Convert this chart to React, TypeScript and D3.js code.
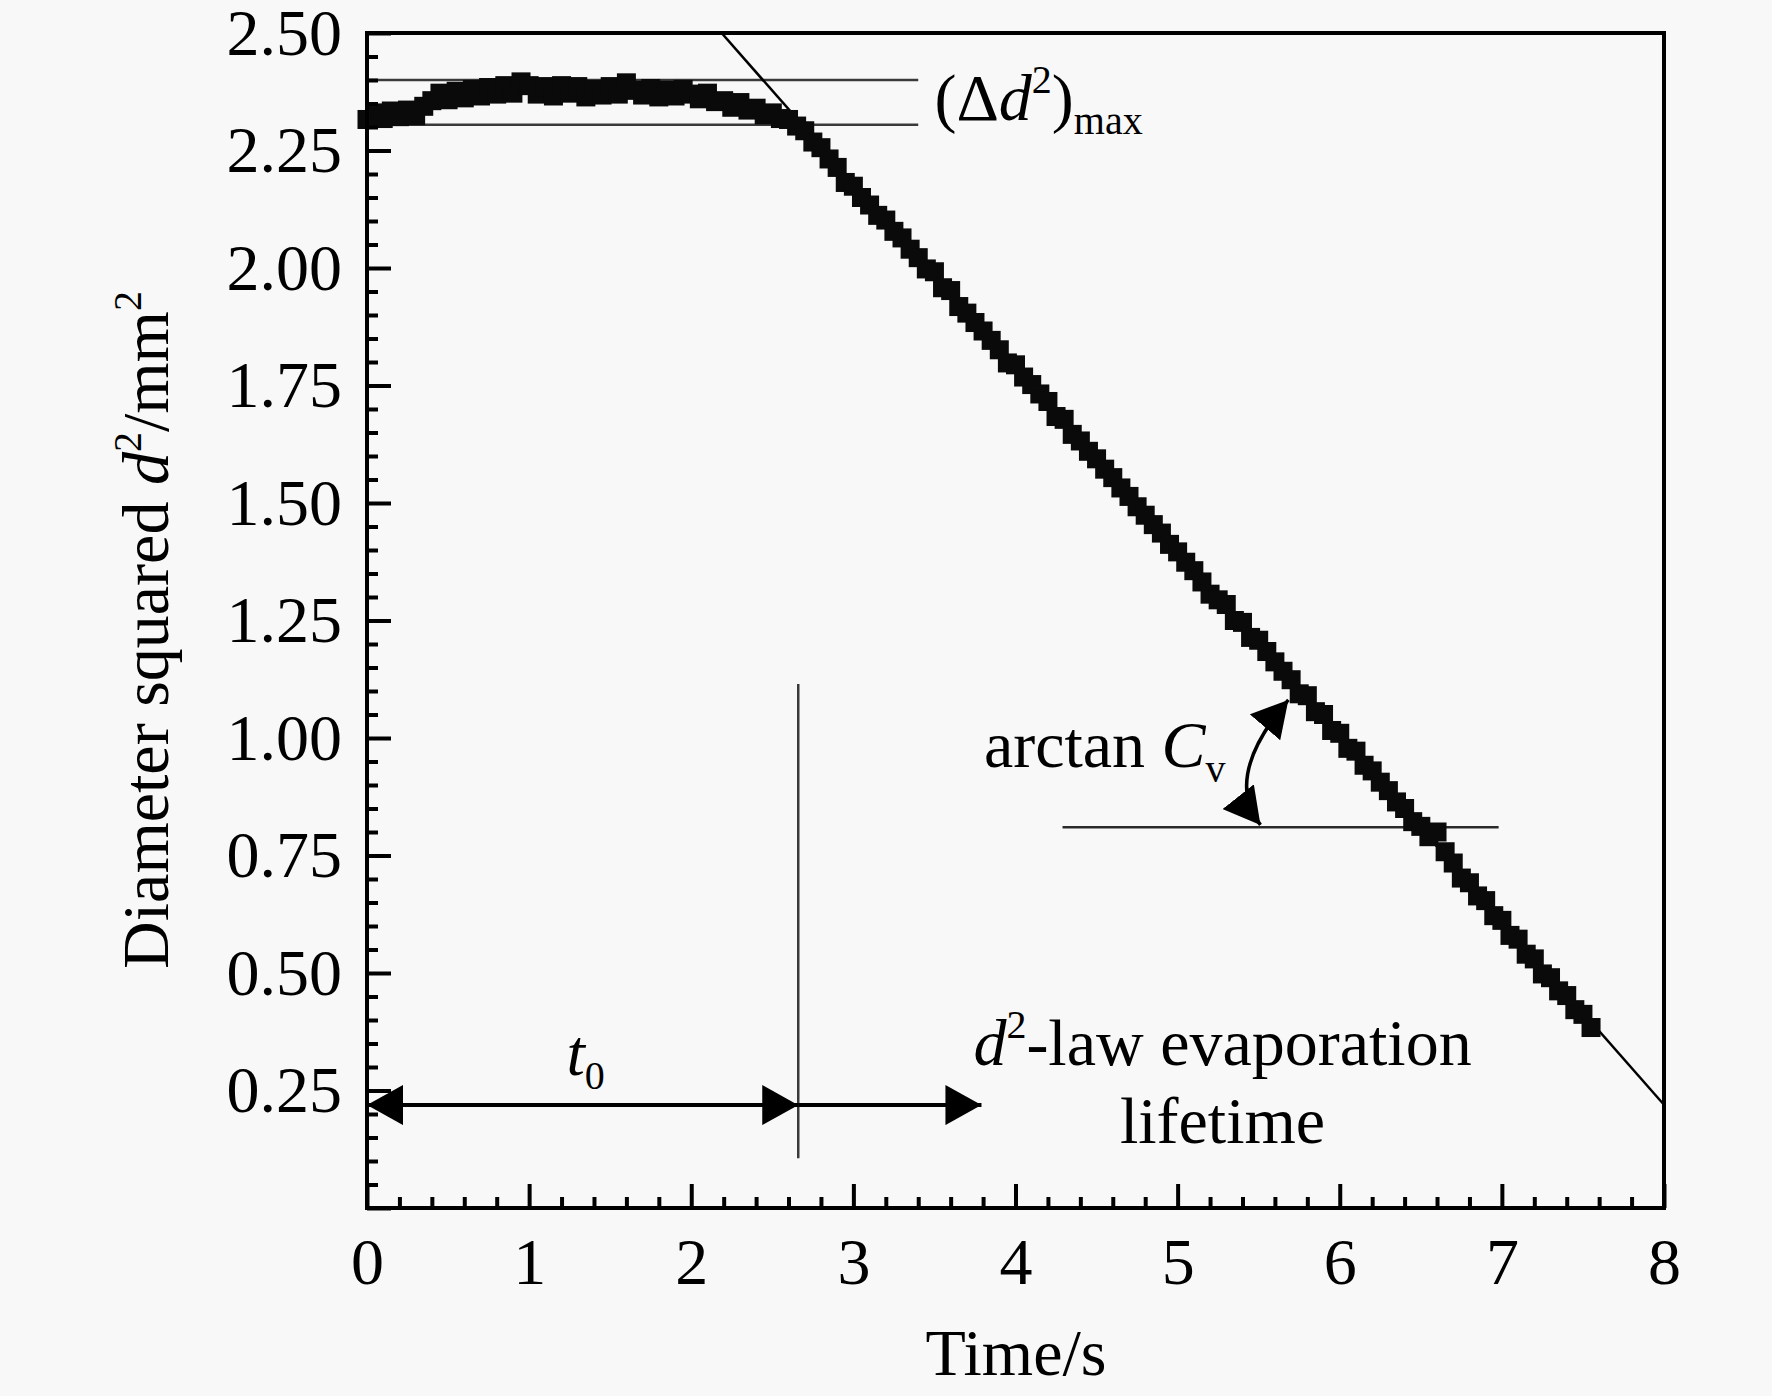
import * as d3 from "d3";
import { useEffect, useRef } from "react";

const WIDTH = 1772;
const HEIGHT = 1396;
const MARGIN = { top: 33, right: 108, bottom: 188, left: 367 };
const FONT = "'Liberation Serif', 'Times New Roman', serif";
const FONT_SIZE = 66;
const SUB_SIZE = 40;

// axes
const X_DOMAIN: [number, number] = [0, 8];
const Y_DOMAIN: [number, number] = [0, 2.5];
const X_MAJOR = [0, 1, 2, 3, 4, 5, 6, 7, 8];
const Y_MAJOR = [0, 0.25, 0.5, 0.75, 1.0, 1.25, 1.5, 1.75, 2.0, 2.25, 2.5];
const X_MINOR_STEP = 0.2;
const Y_MINOR_STEP = 0.05;

// measured d^2 (mm^2), one sample every 0.05 s starting at t = 0
const SAMPLE_STEP = 0.05;
const D2_VALUES = [
  2.316, 2.33, 2.318, 2.334, 2.322, 2.336, 2.324, 2.344, 2.356, 2.372,
  2.358, 2.376, 2.362, 2.38, 2.366, 2.384, 2.37, 2.388, 2.372, 2.396,
  2.388, 2.37, 2.386, 2.366, 2.388, 2.372, 2.386, 2.364, 2.38, 2.368,
  2.386, 2.37, 2.394, 2.378, 2.368, 2.382, 2.364, 2.378, 2.366, 2.38,
  2.37, 2.36, 2.372, 2.354, 2.356, 2.342, 2.352, 2.336, 2.34, 2.326,
  2.33, 2.318, 2.316, 2.302, 2.292, 2.268, 2.256, 2.232,
  2.214, 2.182, 2.174, 2.15, 2.134, 2.112, 2.102, 2.078, 2.064, 2.04,
  2.022, 1.998, 1.992, 1.958, 1.952, 1.918, 1.904, 1.884, 1.866, 1.846,
  1.826, 1.798, 1.794, 1.768, 1.752, 1.732, 1.716, 1.684, 1.678, 1.646,
  1.632, 1.61, 1.594, 1.572, 1.554, 1.532, 1.514, 1.492, 1.474, 1.454,
  1.436, 1.412, 1.396, 1.374, 1.356, 1.332, 1.306, 1.294, 1.284, 1.25,
  1.246, 1.214, 1.208, 1.184, 1.162, 1.142, 1.124, 1.094, 1.09, 1.056,
  1.05, 1.016, 1.01, 0.978, 0.972, 0.942, 0.93, 0.906, 0.888, 0.864,
  0.85, 0.822, 0.812, 0.79, 0.8, 0.758, 0.734, 0.702, 0.692, 0.664,
  0.654, 0.622, 0.612, 0.58, 0.572, 0.54, 0.53, 0.498, 0.49, 0.462,
  0.452, 0.422, 0.412, 0.384,
];

// d2-law fit line
const FIT_INTERCEPT = 3.358;
const FIT_SLOPE = -0.3923;

// annotations (data units)
const DELTA_LEVELS = [2.4, 2.305];
const DELTA_LINE_END = 3.4;
const T0 = 2.66;
const T0_LINE_RANGE = [0.106, 1.115];
const ARROW_LEVEL = 0.219;
const LIFETIME_ARROW_END = 3.79;
const ANGLE_LINE = { from: 4.29, to: 6.98, level: 0.81 };
const ANGLE_ARC = { from: [5.683, 1.081], ctrl: [5.277, 0.917], to: [5.511, 0.815] };

const MARKER = 19;

export default function App() {
  const xMajorRef = useRef<SVGGElement | null>(null);
  const xMinorRef = useRef<SVGGElement | null>(null);
  const yMajorRef = useRef<SVGGElement | null>(null);
  const yMinorRef = useRef<SVGGElement | null>(null);

  const boundsWidth = WIDTH - MARGIN.left - MARGIN.right;
  const boundsHeight = HEIGHT - MARGIN.top - MARGIN.bottom;

  const xScale = d3.scaleLinear().domain(X_DOMAIN).range([0, boundsWidth]);
  const yScale = d3.scaleLinear().domain(Y_DOMAIN).range([boundsHeight, 0]);

  const xMinor = d3
    .range(0, Math.round((X_DOMAIN[1] - X_DOMAIN[0]) / X_MINOR_STEP) + 1)
    .map((i) => X_DOMAIN[0] + i * X_MINOR_STEP)
    .filter((_, i) => i % 5 !== 0);
  const yMinor = d3
    .range(0, Math.round((Y_DOMAIN[1] - Y_DOMAIN[0]) / Y_MINOR_STEP) + 1)
    .map((i) => Y_DOMAIN[0] + i * Y_MINOR_STEP)
    .filter((_, i) => i % 5 !== 0);

  useEffect(() => {
    const style = (g: d3.Selection<SVGGElement, unknown, null, undefined>) => {
      g.attr("font-family", FONT).attr("font-size", FONT_SIZE);
      g.select(".domain").remove();
      g.selectAll("line").attr("stroke", "#000").attr("stroke-width", 4);
      g.selectAll("text").attr("fill", "#000");
    };

    if (xMajorRef.current) {
      const g = d3.select(xMajorRef.current);
      g.selectAll("*").remove();
      g.call(
        d3.axisBottom(xScale).tickValues(X_MAJOR).tickSize(-24).tickSizeOuter(0).tickPadding(29).tickFormat(d3.format("d"))
      );
      style(g);
    }
    if (xMinorRef.current) {
      const g = d3.select(xMinorRef.current);
      g.selectAll("*").remove();
      g.call(d3.axisBottom(xScale).tickValues(xMinor).tickSize(-11).tickSizeOuter(0).tickFormat(() => ""));
      style(g);
    }
    if (yMajorRef.current) {
      const g = d3.select(yMajorRef.current);
      g.selectAll("*").remove();
      g.call(
        d3
          .axisLeft(yScale)
          .tickValues(Y_MAJOR)
          .tickSize(-24)
          .tickSizeOuter(0)
          .tickPadding(25)
          .tickFormat((d) => (+d === 0 ? "" : d3.format(".2f")(+d)))
      );
      style(g);
    }
    if (yMinorRef.current) {
      const g = d3.select(yMinorRef.current);
      g.selectAll("*").remove();
      g.call(d3.axisLeft(yScale).tickValues(yMinor).tickSize(-11).tickSizeOuter(0).tickFormat(() => ""));
      style(g);
    }
  }, [xScale, yScale]);

  const fitStart = (Y_DOMAIN[1] - FIT_INTERCEPT) / FIT_SLOPE;
  const fitLine = d3
    .line<number>()
    .x((t) => xScale(t))
    .y((t) => yScale(FIT_INTERCEPT + FIT_SLOPE * t))([fitStart, X_DOMAIN[1]]);

  const arcPath = `M${xScale(ANGLE_ARC.from[0])},${yScale(ANGLE_ARC.from[1])} Q${xScale(
    ANGLE_ARC.ctrl[0]
  )},${yScale(ANGLE_ARC.ctrl[1])} ${xScale(ANGLE_ARC.to[0])},${yScale(ANGLE_ARC.to[1])}`;

  const points = D2_VALUES.map((v, i) => (
    <rect
      key={i}
      x={xScale(i * SAMPLE_STEP) - MARKER / 2}
      y={yScale(v) - MARKER / 2}
      width={MARKER}
      height={MARKER}
      fill="#0a0a0a"
    />
  ));

  const sub = { fontSize: SUB_SIZE };

  return (
    <svg
      width={WIDTH}
      height={HEIGHT}
      style={{ position: "absolute", left: 0, top: 0, display: "block" }}
      fontFamily={FONT}
    >
      <defs>
        <clipPath id="plot-clip">
          <rect x={0} y={0} width={boundsWidth} height={boundsHeight} />
        </clipPath>
        <marker
          id="head"
          viewBox="0 0 36 40"
          refX={36}
          refY={20}
          markerWidth={36}
          markerHeight={40}
          markerUnits="userSpaceOnUse"
          orient="auto-start-reverse"
        >
          <path d="M0,0 L36,20 L0,40 Z" fill="#000" />
        </marker>
      </defs>
      <rect width={WIDTH} height={HEIGHT} fill="#f8f8f8" />
      <g transform={`translate(${MARGIN.left}, ${MARGIN.top})`}>
        {/* (Δd²)max reference levels */}
        {DELTA_LEVELS.map((lv, i) => (
          <line
            key={i}
            x1={xScale(0)}
            x2={xScale(DELTA_LINE_END)}
            y1={yScale(lv)}
            y2={yScale(lv)}
            stroke="#3a3a3a"
            strokeWidth={2.5}
          />
        ))}
        {/* horizontal line for the slope angle */}
        <line
          x1={xScale(ANGLE_LINE.from)}
          x2={xScale(ANGLE_LINE.to)}
          y1={yScale(ANGLE_LINE.level)}
          y2={yScale(ANGLE_LINE.level)}
          stroke="#2a2a2a"
          strokeWidth={2.5}
        />
        {/* t0 divider */}
        <line
          x1={xScale(T0)}
          x2={xScale(T0)}
          y1={yScale(T0_LINE_RANGE[0])}
          y2={yScale(T0_LINE_RANGE[1])}
          stroke="#3a3a3a"
          strokeWidth={2.5}
        />
        <g clipPath="url(#plot-clip)">
          <path d={fitLine ?? ""} fill="none" stroke="#000" strokeWidth={2.5} />
        </g>
        {points}
        {/* arrows */}
        <line
          x1={xScale(0)}
          x2={xScale(T0)}
          y1={yScale(ARROW_LEVEL)}
          y2={yScale(ARROW_LEVEL)}
          stroke="#000"
          strokeWidth={4}
          markerStart="url(#head)"
          markerEnd="url(#head)"
        />
        <line
          x1={xScale(T0)}
          x2={xScale(LIFETIME_ARROW_END)}
          y1={yScale(ARROW_LEVEL)}
          y2={yScale(ARROW_LEVEL)}
          stroke="#000"
          strokeWidth={4}
          markerEnd="url(#head)"
        />
        <path
          d={arcPath}
          fill="none"
          stroke="#000"
          strokeWidth={3.5}
          markerStart="url(#head)"
          markerEnd="url(#head)"
        />
        {/* frame */}
        <rect x={0} y={0} width={boundsWidth} height={boundsHeight} fill="none" stroke="#000" strokeWidth={4} />
        <g ref={xMinorRef} transform={`translate(0, ${boundsHeight})`} />
        <g ref={xMajorRef} transform={`translate(0, ${boundsHeight})`} />
        <g ref={yMinorRef} />
        <g ref={yMajorRef} />

        {/* annotation texts */}
        <text x={xScale(3.5)} y={yScale(2.315)} fontSize={FONT_SIZE} fill="#000">
          (Δ<tspan fontStyle="italic">d</tspan>
          <tspan {...sub} dy={-27}>2</tspan>
          <tspan dy={27}>)</tspan>
          <tspan {...sub} dy={14}>max</tspan>
        </text>
        <text x={xScale(3.805)} y={yScale(0.938)} fontSize={FONT_SIZE} fill="#000">
          arctan <tspan fontStyle="italic">C</tspan>
          <tspan {...sub} dy={15}>v</tspan>
        </text>
        <text x={xScale(5.277)} y={yScale(0.304)} fontSize={FONT_SIZE} fill="#000" textAnchor="middle">
          <tspan fontStyle="italic">d</tspan>
          <tspan {...sub} dy={-27}>2</tspan>
          <tspan dy={27}>-law evaporation</tspan>
        </text>
        <text x={xScale(5.277)} y={yScale(0.138)} fontSize={FONT_SIZE} fill="#000" textAnchor="middle">
          lifetime
        </text>
        <text x={xScale(1.23)} y={yScale(0.283)} fontSize={FONT_SIZE} fill="#000">
          <tspan fontStyle="italic">t</tspan>
          <tspan {...sub} dy={14}>0</tspan>
        </text>
      </g>
      {/* axis titles */}
      <text x={1016} y={1375} fontSize={FONT_SIZE} textAnchor="middle" fill="#000">
        Time/s
      </text>
      <text transform="translate(168, 630) rotate(-90)" fontSize={FONT_SIZE} textAnchor="middle" fill="#000">
        Diameter squared <tspan fontStyle="italic">d</tspan>
        <tspan {...sub} dy={-27}>2</tspan>
        <tspan dy={27}>/mm</tspan>
        <tspan {...sub} dy={-27}>2</tspan>
      </text>
    </svg>
  );
}
